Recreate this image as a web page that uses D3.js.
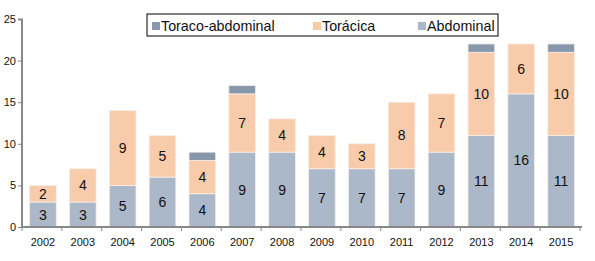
<!DOCTYPE html>
<html>
<head>
<meta charset="utf-8">
<script src="https://cdn.jsdelivr.net/npm/d3@7"></script>
<style>
  body { margin: 0; background: #fff; overflow: hidden; }
  svg { display: block; }
  svg text { font-family: "Liberation Sans", Arial, sans-serif; fill: #111; }
</style>
</head>
<body>
<svg id="chart"></svg>
<script>
var years = ['2002', '2003', '2004', '2005', '2006', '2007', '2008', '2009', '2010', '2011', '2012', '2013', '2014', '2015']
var abdominal = [3, 3, 5, 6, 4, 9, 9, 7, 7, 7, 9, 11, 16, 11]
var toracica = [2, 4, 9, 5, 4, 7, 4, 4, 3, 8, 7, 10, 6, 10]
var toracoAbdominal = [0, 0, 0, 0, 1, 1, 0, 0, 0, 0, 0, 1, 0, 1]
var yTicks = [0, 5, 10, 15, 20, 25]

var seriesNames = ['Abdominal', 'Torácica', 'Toraco-abdominal']
var colors = {'Abdominal': '#abb8c9', 'Torácica': '#f8cbab', 'Toraco-abdominal': '#8798ad'}

var outerWidth = 595, outerHeight = 261
var margins = {top: 19, right: 13, bottom: 34, left: 22}
var innerWidth = outerWidth - margins.left - margins.right
var innerHeight = outerHeight - margins.top - margins.bottom

var svg = d3.select('svg#chart')
    .attr('width', outerWidth)
    .attr('height', outerHeight)

var plot = svg.append('g')
    .attr('transform', 'translate(' + margins.left + ',' + margins.top + ')')

var rows = years.map(function(y, i) {
    return {year: y, 'Abdominal': abdominal[i], 'Torácica': toracica[i], 'Toraco-abdominal': toracoAbdominal[i]}
})

var stacked = d3.stack().keys(seriesNames)(rows)

var xScale = d3.scaleBand()
    .domain(years)
    .range([0, innerWidth])
    .paddingInner(0.33)
    .paddingOuter(0.19)

var yScale = d3.scaleLinear()
    .domain([0, 25])
    .range([innerHeight, 0])

// bars
var groups = plot.selectAll('.series')
    .data(stacked)
    .join('g')
    .attr('class', 'series')
    .style('fill', function(d) { return colors[d.key] })

groups.selectAll('rect')
    .data(function(d) { return d.filter(function(p) { return p[1] - p[0] > 0 }) })
    .join('rect')
    .attr('x', function(d) { return xScale(d.data.year) })
    .attr('width', xScale.bandwidth())
    .attr('y', function(d) { return yScale(d[1]) })
    .attr('height', function(d) { return yScale(d[0]) - yScale(d[1]) })
    .style('stroke', '#fbeee6')
    .style('stroke-width', 0.8)

// value labels (not for the thin toraco-abdominal segments)
stacked.slice(0, 2).forEach(function(s) {
    plot.selectAll('.lbl-' + s.index)
        .data(s.filter(function(p) { return p[1] - p[0] > 0 }))
        .join('text')
        .attr('x', function(d) { return xScale(d.data.year) + xScale.bandwidth() / 2 })
        .attr('y', function(d) { return (yScale(d[0]) + yScale(d[1])) / 2 + 5 })
        .attr('text-anchor', 'middle')
        .style('font-size', '14px')
        .text(function(d) { return d[1] - d[0] })
})

// y axis
var yAxis = d3.axisLeft(yScale).tickValues(yTicks).tickSize(4).tickPadding(2)
var gy = plot.append('g').attr('class', 'y axis').call(yAxis)
gy.select('.domain').style('stroke', '#888').style('stroke-width', 2).attr('d', 'M0,' + (innerHeight + 1) + 'V0.5H-4')
gy.selectAll('.tick line').style('stroke', '#888')
gy.selectAll('.tick text').style('font-size', '11px')

// x axis
var xAxis = d3.axisBottom(xScale).tickSize(0).tickPadding(11)
var gx = plot.append('g')
    .attr('class', 'x axis')
    .attr('transform', 'translate(0,' + innerHeight + ')')
    .call(xAxis)
gx.select('.domain').style('stroke', '#888').style('stroke-width', 2).attr('d', 'M-1,0H' + innerWidth)
gx.selectAll('.tick text').style('font-size', '11px')

// x separators between categories
var step = xScale.step()
var seps = d3.range(years.length + 1).map(function(i) { return xScale(years[0]) - xScale.paddingOuter() * step + i * step })
gx.selectAll('.sep')
    .data(seps)
    .join('line')
    .attr('class', 'sep')
    .attr('x1', function(d) { return d }).attr('x2', function(d) { return d })
    .attr('y1', 0).attr('y2', 4)
    .style('stroke', '#888')

// legend
var legend = svg.append('g').attr('transform', 'translate(147,14)')
legend.append('rect')
    .attr('width', 351).attr('height', 22)
    .style('fill', '#fff').style('stroke', '#000').style('stroke-width', 1)

var legendItems = [
    {name: 'Toraco-abdominal', x: 5},
    {name: 'Torácica', x: 166},
    {name: 'Abdominal', x: 271}
]
var li = legend.selectAll('.item')
    .data(legendItems)
    .join('g')
    .attr('transform', function(d) { return 'translate(' + d.x + ',0)' })
li.append('rect')
    .attr('y', 8).attr('width', 8).attr('height', 8)
    .style('fill', function(d) { return colors[d.name] })
li.append('text')
    .attr('x', 9).attr('y', 17)
    .style('font-size', '14.3px')
    .text(function(d) { return d.name })
</script>
</body>
</html>
